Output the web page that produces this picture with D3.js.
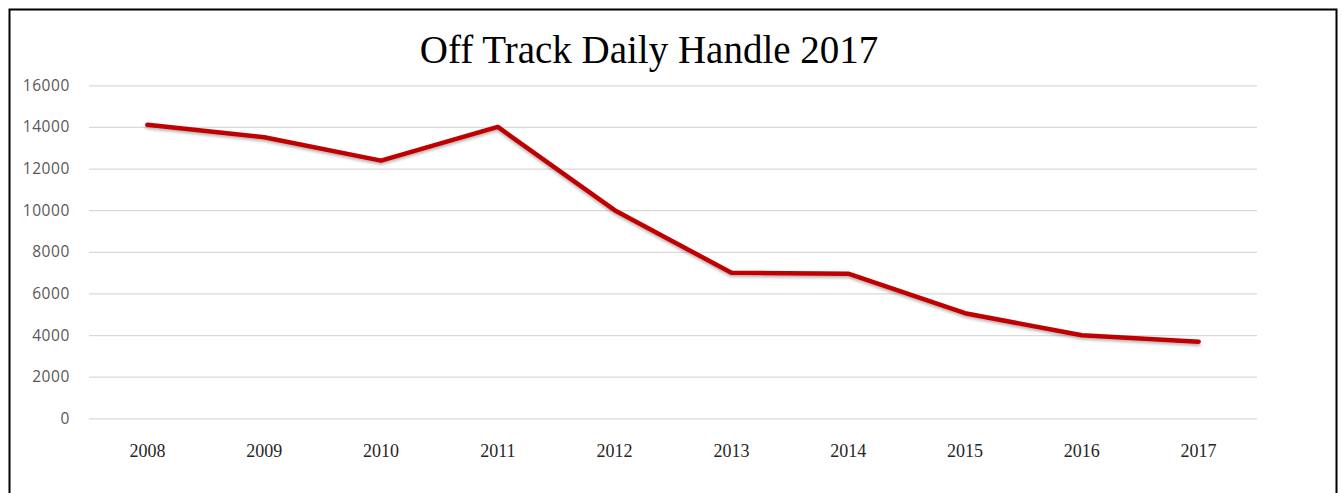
<!DOCTYPE html>
<html>
<head>
<meta charset="utf-8">
<script src="https://cdn.jsdelivr.net/npm/d3@7"></script>
<style>
  html, body { margin: 0; padding: 0; background: #fff; }
  svg { display: block; }
</style>
</head>
<body>
<svg id="chart" width="1343" height="493"></svg>
<script>
const title = "Off Track Daily Handle 2017";
const years = ["2008","2009","2010","2011","2012","2013","2014","2015","2016","2017"];
const handle = [14100, 13500, 12380, 14000, 10000, 6990, 6950, 5050, 3990, 3680];
const yTicks = [0, 2000, 4000, 6000, 8000, 10000, 12000, 14000, 16000];

const svg = d3.select("#chart");
const W = 1343, H = 493;
const m = { left: 89, right: 1257, top: 85.3, bottom: 418.3 };

svg.append("rect").attr("width", W).attr("height", H).attr("fill", "#fff");

// Outer border (no bottom edge visible)
svg.append("path")
  .attr("d", `M9.5,${H + 5} L9.5,9.5 L1336.5,9.5 L1336.5,${H + 5}`)
  .attr("fill", "none").attr("stroke", "#000").attr("stroke-width", 2);

const x = d3.scaleBand().domain(years).range([m.left, m.right]);
const y = d3.scaleLinear().domain([0, 16000]).range([m.bottom, m.top]);

// gridlines
svg.append("g")
  .attr("transform", `translate(${m.left},0)`)
  .call(d3.axisLeft(y).tickValues(yTicks).tickSize(-(m.right - m.left)).tickFormat(""))
  .call(g => g.select(".domain").remove())
  .call(g => g.selectAll("line").attr("stroke", "#d9d9d9").attr("stroke-width", 1.2));

// y tick labels
svg.append("g")
  .attr("transform", `translate(70,0)`)
  .call(d3.axisLeft(y).tickValues(yTicks).tickSize(0).tickPadding(0).tickFormat(d3.format("d")))
  .call(g => g.select(".domain").remove())
  .call(g => g.selectAll("text")
    .attr("fill", "#595959")
    .style("font-family", "'Open Sans', 'Liberation Sans', sans-serif")
    .style("font-size", "15.5px")
    .style("letter-spacing", "0.6px"));

// x tick labels
svg.append("g")
  .attr("transform", `translate(0,${m.bottom})`)
  .call(d3.axisBottom(x).tickSize(0).tickPadding(26))
  .call(g => g.select(".domain").remove())
  .call(g => g.selectAll("text")
    .attr("fill", "#262626")
    .style("font-family", "'Liberation Serif', 'Times New Roman', serif")
    .style("font-size", "18px"));

// shadow filter
const defs = svg.append("defs");
const f = defs.append("filter").attr("id", "sh").attr("x", "-5%").attr("y", "-20%").attr("width", "110%").attr("height", "140%");
f.append("feDropShadow").attr("dx", 0).attr("dy", 2).attr("stdDeviation", 1.5)
  .attr("flood-color", "#000").attr("flood-opacity", 0.3);

const line = d3.line()
  .x((d, i) => x(years[i]) + x.bandwidth() / 2)
  .y(d => y(d));

svg.append("path")
  .datum(handle)
  .attr("d", line)
  .attr("fill", "none")
  .attr("stroke", "#C00000")
  .attr("stroke-width", 4.5)
  .attr("stroke-linejoin", "round")
  .attr("stroke-linecap", "round")
  .attr("filter", "url(#sh)");

// title
svg.append("text")
  .attr("x", 649).attr("y", 63)
  .attr("text-anchor", "middle")
  .attr("fill", "#000")
  .style("font-family", "'Liberation Serif', 'Times New Roman', serif")
  .style("font-size", "39px")
  .text(title);
</script>
</body>
</html>
